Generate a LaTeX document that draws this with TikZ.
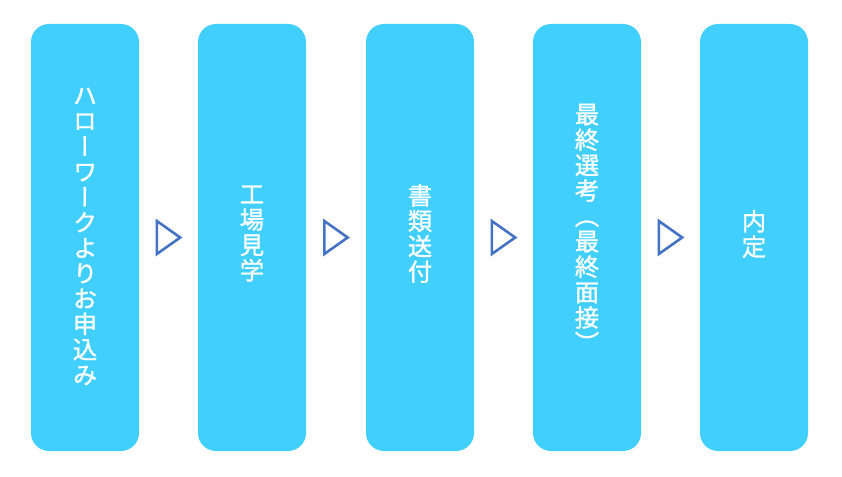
\documentclass[tikz,border=0pt]{standalone}
\usepackage{fontspec}
\newfontfamily\cjk[RawFeature=+vert, FakeBold=1.2]{Noto Sans CJK JP}
\usetikzlibrary{calc}
\definecolor{boxcyan}{HTML}{40CFFF}
\definecolor{triblue}{HTML}{4472C4}
\begin{document}
\begin{tikzpicture}[x=1pt,y=-1pt,
  stepbox/.style={draw=none, fill=boxcyan, rounded corners=18pt, minimum width=108pt, minimum height=427pt, inner sep=0pt},
  vtext/.style={text=white, align=center, inner sep=0pt, font=\cjk\fontsize{24.3}{25.4}\selectfont},
  tri/.style={draw=triblue, line width=2.6pt, line join=miter, fill=none}]
\useasboundingbox (0,0) rectangle (842,476);
\node[stepbox] (b1) at (85,237.5) {};
\node[stepbox] (b2) at (252,237.5) {};
\node[stepbox] (b3) at (420,237.5) {};
\node[stepbox] (b4) at (587,237.5) {};
\node[stepbox] (b5) at (754,237.5) {};
\node[vtext] (l1) at ([yshift=1pt]b1.center) {ハ\\ロ\\ー\\ワ\\ー\\ク\\よ\\り\\お\\申\\込\\み};
\node[vtext] (l2) at ([yshift=4pt]b2.center) {工\\場\\見\\学};
\node[vtext] (l3) at ([yshift=4pt]b3.center) {書\\類\\送\\付};
\node[vtext] (l4) at ([yshift=9.5pt]b4.center) {最\\終\\選\\考\\（\\最\\終\\面\\接\\）};
\node[vtext] (l5) at ([yshift=3.5pt]b5.center) {内\\定};
\foreach \i/\j in {1/2,2/3,3/4,4/5}{
  \coordinate (m\i) at ($(b\i.east)!0.5!(b\j.west)$);
  \draw[tri] ([shift={(-11.7,-16.5)}]m\i) -- ([xshift=11.7pt]m\i) -- ([shift={(-11.7,16.5)}]m\i) -- cycle;
}
\end{tikzpicture}
\end{document}
